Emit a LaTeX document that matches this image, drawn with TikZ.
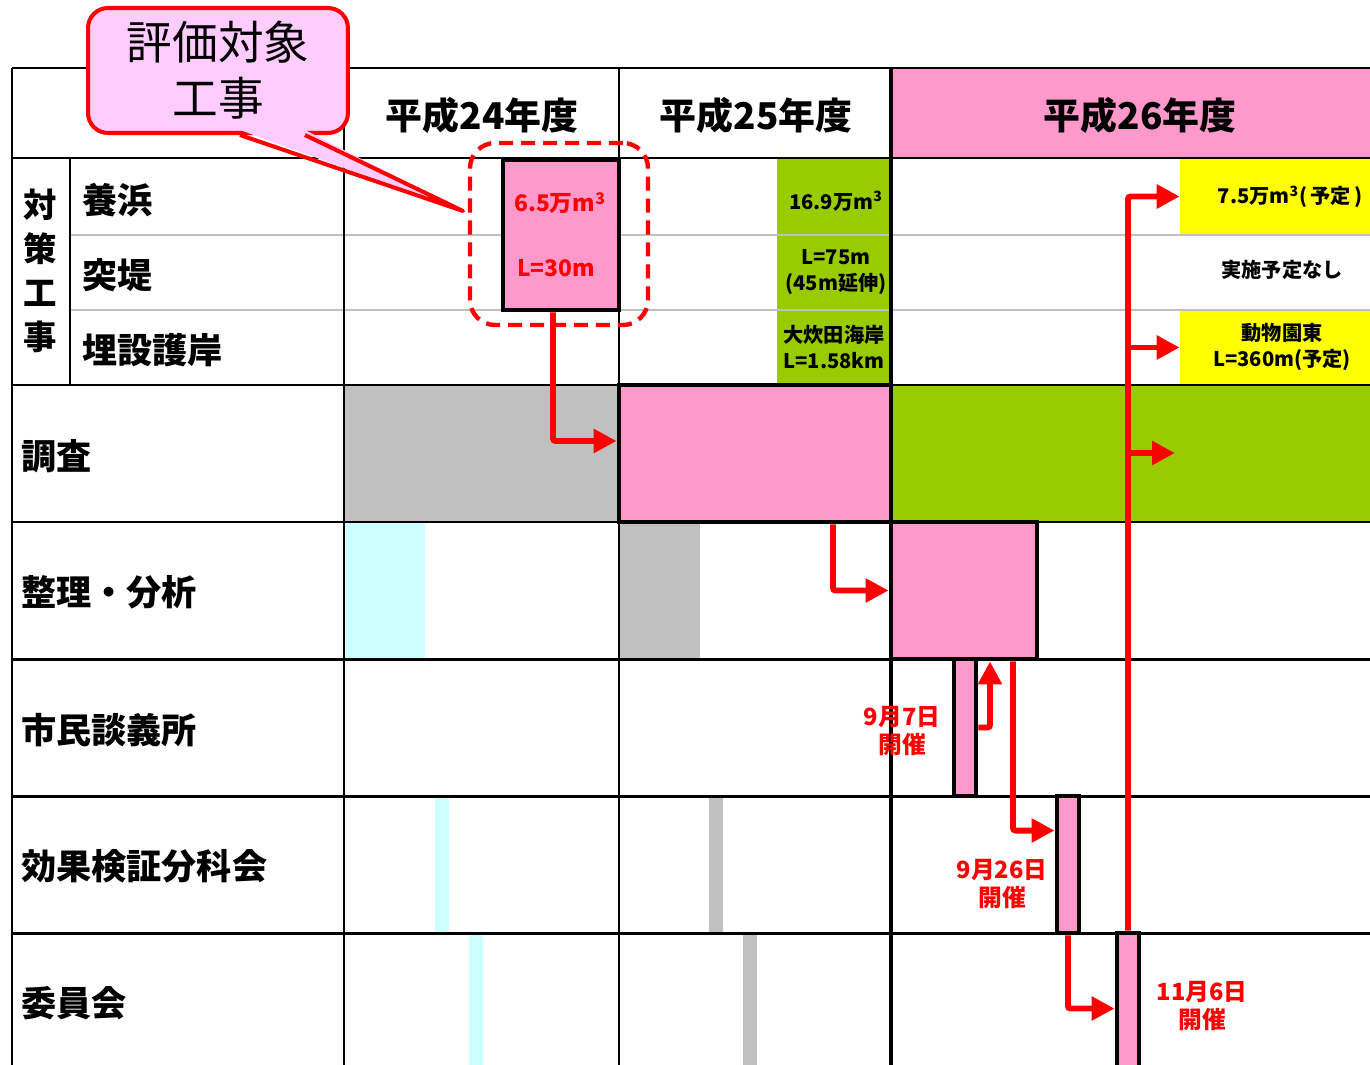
\documentclass[tikz,border=0pt]{standalone}
\usepackage{fontspec}
\setmainfont{Noto Sans CJK JP}
\usetikzlibrary{arrows.meta,positioning}
\definecolor{pinkc}{HTML}{FF99CC}
\definecolor{lilac}{HTML}{FFCCFF}
\definecolor{greenc}{HTML}{99CC00}
\definecolor{yellowc}{HTML}{FFFF00}
\definecolor{grayc}{HTML}{C0C0C0}
\definecolor{cyanc}{HTML}{CCFFFF}
\definecolor{redc}{HTML}{FF0000}

\begin{document}
\begin{tikzpicture}[x=0.02cm,y=-0.02cm,font=\bfseries,
    grid/.style={line width=1.7pt},
    heavy/.style={line width=2.8pt},
    subline/.style={line width=1.5pt,grayc},
    bar/.style={draw=black,line width=2.8pt,fill=pinkc,inner sep=0pt},
    cell/.style={inner sep=0pt,align=center,font=\fontsize{11.5}{15}\bfseries},
    arr/.style={draw=redc,line width=3.4pt,rounded corners=1.5pt,
      -{Triangle[length=0.46cm,width=0.46cm]}},
    rowlbl/.style={anchor=west,font=\fontsize{20}{24}\bfseries},
    yearlbl/.style={font=\fontsize{21}{24}\bfseries},
    datelbl/.style={text=redc,align=center,font=\fontsize{13.5}{16}\bfseries}]
  \useasboundingbox (0,0) rectangle (1370,1065);

  % fills
  \fill[pinkc] (891,68) rectangle (1370,158);
  \fill[greenc] (777,158) rectangle (891,385);
  \fill[grayc] (344,385) rectangle (619,522);
  \fill[greenc] (891,385) rectangle (1370,522);
  \fill[cyanc] (344,522) rectangle (425,659);
  \fill[grayc] (619,522) rectangle (700,659);
  \fill[cyanc] (435,796) rectangle (449,933);
  \fill[grayc] (709,796) rectangle (723,933);
  \fill[cyanc] (469,933) rectangle (483,1065);
  \fill[grayc] (743,933) rectangle (757,1065);

  % yellow cells of H26
  \node[fill=yellowc,inner sep=0pt,minimum width=3.8cm,minimum height=1.54cm] (yoko) at (1275,196.5) {};
  \node[fill=yellowc,inner sep=0pt,minimum width=3.8cm,minimum height=1.5cm] (goen) at (1275,347.5) {};
  \node[cell] (yoko1) at (1290,197) {7.5万m\textsuperscript{3}(\,予定\,)};
  \node[cell] (goen1) at (1282,347) {動物園東\\L=360m(予定)};
  \node[cell] (nashi) at (1282,270) {実施予定なし};

  % table
  \draw[subline] (70,235) -- (1370,235);
  \draw[subline] (70,310) -- (1370,310);
  \draw[grid] (12,68) -- (1370,68);
  \draw[grid] (12,158) -- (1370,158);
  \foreach \y in {385,522,659,796,933}
    \draw[grid] (12,\y) -- (1370,\y);
  \draw[grid] (12,68) -- (12,1065);
  \draw[grid] (70,158) -- (70,385);
  \draw[grid] (344,68) -- (344,1065);
  \draw[grid] (619,68) -- (619,1065);
  \draw[heavy] (891,68) -- (891,1065);

  % headers
  \node[yearlbl] (h24) at (482,115) {平成24年度};
  \node[yearlbl] (h25) at (756,115) {平成25年度};
  \node[yearlbl] (h26) at (1140,115) {平成26年度};

  % row labels
  \node[align=center,font=\fontsize{19}{25}\bfseries] (taisaku) at (40,271) {対\\策\\工\\事};
  \node[rowlbl] (yohin) at (76,200) {養浜};
  \node[rowlbl] (totei) at (76,275) {突堤};
  \node[rowlbl] (maisetsu) at (76,350) {埋設護岸};
  \node[rowlbl] (r1) at (15,456) {調査};
  \node[rowlbl] (r2) at (15,592) {整理・分析};
  \node[rowlbl] (r3) at (15,730) {市民談義所};
  \node[rowlbl] (r4) at (15,866) {効果検証分科会};
  \node[rowlbl] (r5) at (15,1003) {委員会};

  % H25 works
  \node[cell] (g1) at (836,201) {16.9万m\textsuperscript{3}};
  \node[cell] (g2) at (836,272) {L=75m\\(45m延伸)};
  \node[cell] (g3) at (834,347) {大炊田海岸\\L=1.58km};

  % bars
  \node[bar,minimum width=2.32cm,minimum height=3cm] (dai) at (561,235) {};
  \node[text=redc,font=\fontsize{13}{16}\bfseries] (dai1) at (560,203) {6.5万m\textsuperscript{3}};
  \node[text=redc,font=\fontsize{13}{16}\bfseries] (dai2) at (556,268) {L=30m};
  \node[bar,minimum width=5.44cm,minimum height=2.74cm] (chosa) at (755,453.5) {};
  \node[bar,minimum width=2.92cm,minimum height=2.74cm] (seiri) at (964,590.5) {};
  \node[bar,minimum width=0.44cm,minimum height=2.74cm] (shimin) at (965,727.5) {};
  \node[bar,minimum width=0.44cm,minimum height=2.74cm] (bunka) at (1068,864.5) {};
  \node[bar,minimum width=0.44cm,minimum height=2.94cm] (iinkai) at (1128,1006.5) {};

  % dates
  \node[datelbl] (d1) at (902,731) {9月7日\\開催};
  \node[datelbl] (d2) at (1002,884) {9月26日\\開催};
  \node[datelbl] (d3) at (1202,1006) {11月6日\\開催};

  % arrows
  \coordinate (t26) at (1175,453);
  \draw[arr] ([xshift=-0.16cm]dai.south) |- ([yshift=0.25cm]chosa.west);
  \draw[arr] ([xshift=1.56cm]chosa.south) |- (seiri.west);
  \draw[arr] (shimin.east) -| ([xshift=0.52cm]seiri.south);
  \draw[arr] ([xshift=0.98cm]seiri.south) |- ([yshift=0.68cm]bunka.west);
  \draw[arr] (bunka.south) |- ([yshift=-0.04cm]iinkai.west);
  \draw[arr] (iinkai.north) |- (yoko.west);
  \draw[arr] (iinkai.north |- goen.west) -- (goen.west);
  \draw[arr] (iinkai.north |- t26) -- (t26);

  % target works
  \node[draw=redc,dashed,line width=2.5pt,dash pattern=on 8pt off 4.5pt,
    rounded corners=0.5cm,minimum width=3.56cm,minimum height=3.64cm] (taisho) at (559,234) {};

  % callout
  \coordinate (tip) at (463,211);
  \node[draw=redc,fill=lilac,line width=2.3pt,rounded corners=0.4cm,
    minimum width=5.2cm,minimum height=2.5cm,align=center,
    font=\fontsize{26}{32}\mdseries] (hyoka) at (218,70.5) {評価対象\\工事};
  \fill[lilac] ([xshift=0.44cm,yshift=0.1cm]hyoka.south) -- (tip)
    -- ([xshift=1.74cm,yshift=0.1cm]hyoka.south) -- cycle;
  \draw[redc,line width=2.3pt,line join=round] ([xshift=0.44cm]hyoka.south) -- (tip)
    -- ([xshift=1.74cm]hyoka.south);
\end{tikzpicture}
\end{document}
